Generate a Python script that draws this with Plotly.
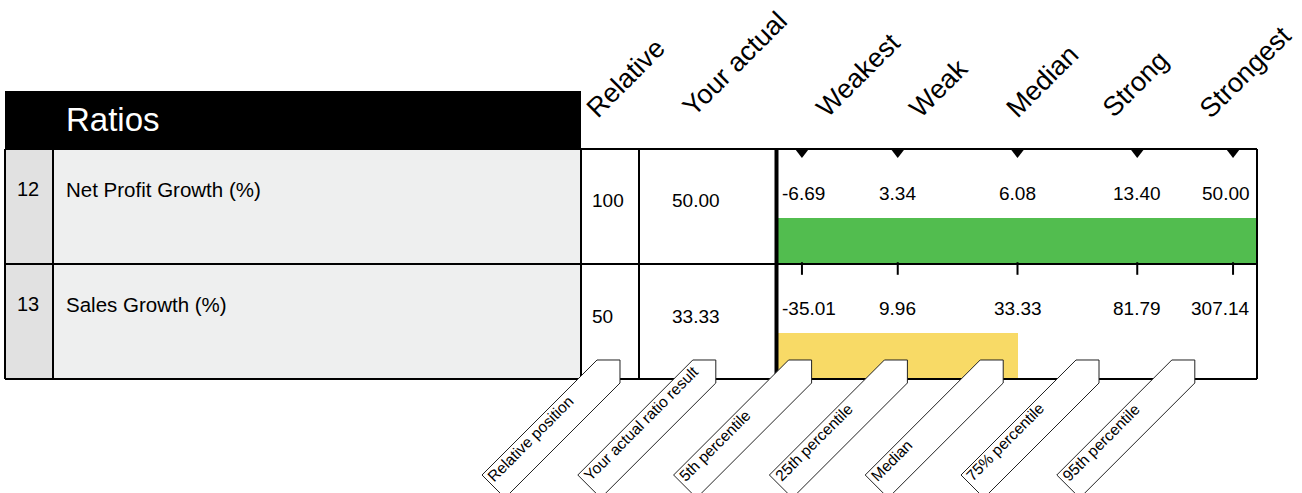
import math
import plotly.graph_objects as go

W, H = 1302, 493
FONT = "Liberation Sans, Arial, sans-serif"

# ---------------- data ----------------
row_ids = ["12", "13"]
ratio_names = ["Net Profit Growth (%)", "Sales Growth (%)"]
relative_position = [100, 50]
actual_result = ["50.00", "33.33"]
percentile_levels = [5, 25, 50, 75, 95]
percentile_values = [
    ["-6.69", "3.34", "6.08", "13.40", "50.00"],
    ["-35.01", "9.96", "33.33", "81.79", "307.14"],
]
bar_colors = ["#52bd4f", "#f8da66"]
header_title = "Ratios"
header_labels = ["Relative", "Your actual", "Weakest", "Weak", "Median", "Strong", "Strongest"]
callout_labels = ["Relative position", "Your actual ratio result", "5th percentile",
                  "25th percentile", "Median", "75% percentile", "95th percentile"]

# ---------------- layout constants (pixels) ----------------
X0, X_NUM, X_REL, X_ACT, X_CH, X_R = 5, 53, 581, 639, 777, 1257
PLOT_L = 778
Y_HEAD, Y_TOP, ROW_H = 91, 149, 115
n_rows = len(row_ids)
Y_BOT = Y_TOP + ROW_H * n_rows


def px(x):
    return x / W


def py(y):
    return 1 - y / H


CW = {' ': 278, '(': 333, ')': 333, '%': 889, '-': 333, '.': 278,
      'a': 556, 'b': 556, 'c': 500, 'd': 556, 'e': 556, 'f': 278, 'g': 556, 'h': 556,
      'i': 222, 'j': 222, 'k': 500, 'l': 222, 'm': 833, 'n': 556, 'o': 556, 'p': 556,
      'q': 556, 'r': 333, 's': 500, 't': 278, 'u': 556, 'v': 500, 'w': 722, 'x': 500,
      'y': 500, 'z': 500, 'M': 833, 'R': 722, 'S': 667, 'W': 944, 'Y': 667}


def text_len(s, fs):
    return sum(CW.get(c, 556) for c in s) / 1000 * fs


def rot_center(bx, by, s, fs):
    """centre of a -45deg rotated label whose baseline starts at (bx, by)"""
    L = text_len(s, fs)
    r = 1 / math.sqrt(2)
    up = 0.3465 * fs
    cx = bx + (L / 2) * r - up * r
    cy = by - (L / 2) * r - up * r
    return cx, cy


fig = go.Figure()

# ---------------- bars (relative position, 0-100 scale) ----------------
bar_rows = [i + 0.8 for i in range(n_rows)]
fig.add_trace(go.Bar(
    orientation="h", x=relative_position, y=bar_rows, base=0, width=0.4,
    marker=dict(color=bar_colors, line=dict(width=0)),
    hoverinfo="skip", showlegend=False,
))

# percentile markers: triangles (row 1) and ticks (row 2)
fig.add_trace(go.Scatter(
    x=percentile_levels, y=[3 / ROW_H] * len(percentile_levels), mode="markers",
    marker=dict(symbol="triangle-down", size=12, color="black"),
    cliponaxis=False, hoverinfo="skip", showlegend=False,
))
fig.add_trace(go.Scatter(
    x=percentile_levels, y=[1 + 4.5 / ROW_H] * len(percentile_levels), mode="markers",
    marker=dict(symbol="line-ns", size=9, line=dict(width=2, color="black")),
    cliponaxis=False, hoverinfo="skip", showlegend=False,
))

shapes = []
annotations = []


def rect(x0, y0, x1, y1, fill, layer="below"):
    shapes.append(dict(type="rect", xref="paper", yref="paper", x0=px(x0), x1=px(x1),
                       y0=py(y1), y1=py(y0), fillcolor=fill, line=dict(width=0), layer=layer))


def line(x0, y0, x1, y1, w=2, color="black"):
    shapes.append(dict(type="line", xref="paper", yref="paper", x0=px(x0), x1=px(x1),
                       y0=py(y0), y1=py(y1), line=dict(width=w, color=color), layer="above"))


# header
rect(X0, Y_HEAD, X_REL, Y_TOP, "black")
annotations.append(dict(text=header_title, x=px(64), y=py(119), xref="paper", yref="paper",
                        xanchor="left", yanchor="middle", showarrow=False,
                        font=dict(family=FONT, size=33, color="white")))

for i in range(n_rows):
    top = Y_TOP + ROW_H * i
    bot = top + ROW_H
    rect(X0, top, X_NUM, bot, "#e1e1e1")
    rect(X_NUM, top, X_REL, bot, "#eeefef")
    annotations.append(dict(text=row_ids[i], x=px(15), y=py(top + 40), xref="paper", yref="paper",
                            xanchor="left", yanchor="middle", showarrow=False,
                            font=dict(family=FONT, size=20, color="black")))
    annotations.append(dict(text=ratio_names[i], x=px(64), y=py(top + 40), xref="paper", yref="paper",
                            xanchor="left", yanchor="middle", showarrow=False,
                            font=dict(family=FONT, size=20.5, color="black")))
    annotations.append(dict(text=str(relative_position[i]), x=px(590), y=py(top + 52),
                            xref="paper", yref="paper", xanchor="left", yanchor="middle",
                            showarrow=False, font=dict(family=FONT, size=19, color="black")))
    annotations.append(dict(text=actual_result[i], x=px(696), y=py(top + 52),
                            xref="paper", yref="paper", xanchor="center", yanchor="middle",
                            showarrow=False, font=dict(family=FONT, size=19, color="black")))
    # percentile values
    for j, (lv, val) in enumerate(zip(percentile_levels, percentile_values[i])):
        if j == 0:
            xx, xa, xs = 0, "left", 2
        elif j == len(percentile_levels) - 1:
            xx, xa, xs = 100, "right", -5
        else:
            xx, xa, xs = lv, "center", 0
        annotations.append(dict(text=val, x=xx, y=i + 44 / ROW_H, xref="x", yref="y",
                                xanchor=xa, yanchor="middle", xshift=xs, showarrow=False,
                                font=dict(family=FONT, size=19, color="black")))

# grid lines of the table
for k in range(n_rows + 1):
    yy = Y_TOP + ROW_H * k
    line(X0, yy, X_R, yy, 2)
for xx in (X0, X_NUM, X_REL, X_ACT):
    line(xx, Y_TOP, xx, Y_BOT, 2)
line(X_R, Y_TOP, X_R, Y_BOT, 2)
line(X_CH - 0.5, Y_TOP - 1, X_CH - 0.5, Y_BOT + 1, 4)

# rotated column headers
header_starts = [598, 693, 828, 921, 1018, 1114, 1211]
for lab, bx in zip(header_labels, header_starts):
    cx, cy = rot_center(bx, 119, lab, 27)
    annotations.append(dict(text=lab, x=px(cx), y=py(cy), xref="paper", yref="paper",
                            xanchor="center", yanchor="middle", textangle=-45, showarrow=False,
                            font=dict(family=FONT, size=27, color="black")))

# bottom callouts
for k, lab in enumerate(callout_labels):
    xb = 620 + 95.8 * k
    xa = xb - 23
    pts = [(xa, 360), (xb, 360), (xb, 383), (xa - 92, 498), (xa - 115, 475)]
    path = "M " + " L ".join(f"{px(a):.5f},{py(b):.5f}" for a, b in pts) + " Z"
    shapes.append(dict(type="path", xref="paper", yref="paper", path=path,
                       fillcolor="white", line=dict(color="#222222", width=1), layer="above"))
    cx, cy = rot_center(xa - 103, 482, lab, 15.5)
    annotations.append(dict(text=lab, x=px(cx), y=py(cy), xref="paper", yref="paper",
                            xanchor="center", yanchor="middle", textangle=-45, showarrow=False,
                            font=dict(family=FONT, size=15.5, color="black")))

fig.update_layout(
    width=W, height=H, margin=dict(l=0, r=0, t=0, b=0, pad=0),
    paper_bgcolor="white", plot_bgcolor="rgba(0,0,0,0)",
    shapes=shapes, annotations=annotations, showlegend=False, bargap=0,
    xaxis=dict(domain=[px(PLOT_L), px(X_R)], range=[0, 100], visible=False, fixedrange=True),
    yaxis=dict(domain=[py(Y_BOT), py(Y_TOP)], range=[n_rows, 0], visible=False, fixedrange=True),
)

fig.write_html("out.html", config={"displayModeBar": False})
